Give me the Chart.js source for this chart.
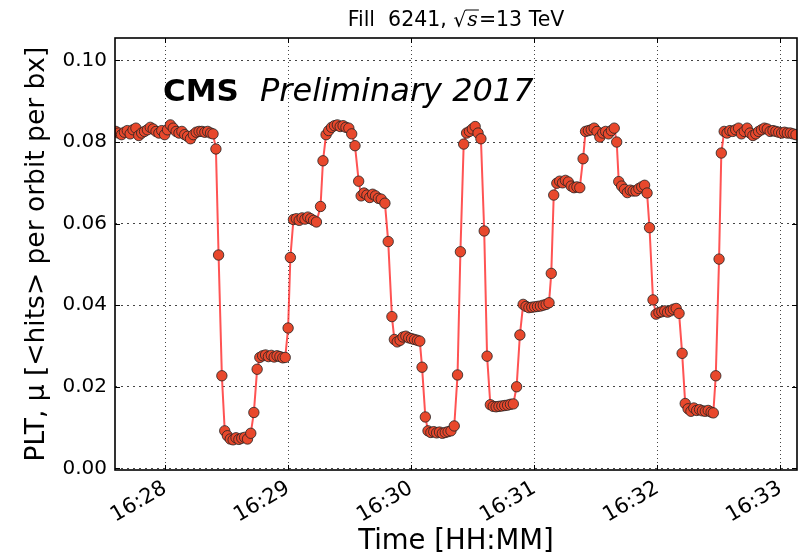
<!DOCTYPE html>
<html><head><meta charset="utf-8">
<script src="https://cdn.jsdelivr.net/npm/chart.js@4.4.1/dist/chart.umd.min.js"></script>
<style>html,body{margin:0;padding:0;background:#fff}</style>
</head><body>
<canvas id="c" width="806" height="559" style="display:block;width:806px;height:559px"></canvas>
<script>
// ---- data: seconds after 16:28:00 and PLT mu per sample ----
const times = [
 -24.0,-22.6,-21.2,-19.8,-18.4,-17.0,-15.6,-14.2,-12.8,-11.4,-10.0,-8.6,-7.2,-5.8,-4.4,-3.0,-1.6,-0.2,
 1.2,2.6,4.0,5.4,6.8,8.2,9.6,11.0,12.4,13.8,15.2,16.6,18.0,19.4,20.8,22.2,23.4,24.8,26.1,27.7,29.1,
 30.4,31.8,33.2,34.6,36.0,37.4,38.8,40.2,41.8,43.3,44.9,46.2,47.6,49.0,50.4,51.8,53.2,54.6,56.0,57.4,58.6,
 60.0,61.1,62.6,64.0,65.4,66.8,68.2,69.6,71.0,72.4,73.8,75.8,77.0,78.5,79.8,81.2,82.6,84.0,85.4,86.8,88.2,89.6,
 91.0,92.6,94.4,95.6,97.0,98.4,99.8,101.2,102.6,104.0,105.4,107.2,108.8,110.6,111.8,113.2,114.6,116.0,117.4,118.8,
 120.2,121.6,123.0,124.2,125.3,126.9,128.2,129.6,131.0,132.4,133.8,135.2,136.6,138.0,139.4,141.0,142.6,144.0,145.6,
 147.0,148.4,149.8,151.2,152.6,154.0,155.6,157.0,158.6,160.0,161.4,162.8,164.2,165.6,167.0,168.4,169.8,
 171.4,173.0,174.6,176.0,177.4,178.8,180.2,181.6,183.0,184.4,185.8,187.2,188.3,189.5,191.0,192.4,193.8,195.2,196.6,
 198.0,199.4,200.8,202.2,203.8,205.0,206.4,207.8,209.2,210.6,212.0,213.4,214.8,216.2,217.6,219.0,220.2,221.2,
 222.6,224.0,225.4,226.8,228.2,229.6,231.0,232.4,233.8,235.0,236.2,237.9,239.4,240.8,242.2,243.6,245.0,246.4,247.8,
 249.2,250.6,252.1,253.6,255.0,256.4,257.8,259.2,260.6,262.0,263.4,264.8,266.2,267.3,268.5,270.1,271.2,
 272.6,274.0,275.4,276.8,278.2,279.6,281.0,282.4,283.8,285.2,286.6,288.0,289.4,290.8,292.2,293.6,295.0,296.4,
 297.8,299.2,300.6,302.0,303.4,304.8,306.2,307.6
];
const mu = [
 0.0826,0.0822,0.0818,0.0824,0.0828,0.0820,0.0830,0.0834,0.0816,0.0822,0.0826,0.0830,0.0836,0.0832,0.0826,0.0822,0.0828,0.0818,
 0.0830,0.0842,0.0834,0.0826,0.0822,0.0826,0.0818,0.0814,0.0808,0.0818,0.0824,0.0826,0.0826,0.0824,0.0826,0.0822,0.0820,0.0783,0.0523,0.0227,0.0092,
 0.0080,0.0072,0.0070,0.0075,0.0071,0.0074,0.0076,0.0072,0.0086,0.0137,0.0243,0.0272,0.0276,0.0278,0.0274,0.0277,0.0273,0.0276,0.0274,0.0271,0.0272,
 0.0344,0.0517,0.0610,0.0612,0.0608,0.0614,0.0611,0.0616,0.0612,0.0608,0.0604,0.0642,0.0754,0.0818,0.0828,0.0836,0.0840,0.0842,0.0838,0.0840,0.0836,0.0834,
 0.0820,0.0791,0.0704,0.0668,0.0675,0.0670,0.0664,0.0672,0.0668,0.0662,0.0660,0.0650,0.0556,0.0372,0.0316,0.0310,0.0314,0.0322,0.0324,0.0320,
 0.0318,0.0316,0.0314,0.0312,0.0248,0.0126,0.0092,0.0088,0.0090,0.0087,0.0089,0.0086,0.0088,0.0090,0.0092,0.0104,0.0229,0.0531,0.0795,
 0.0822,0.0826,0.0832,0.0838,0.0822,0.0808,0.0582,0.0275,0.0156,0.0152,0.0151,0.0152,0.0153,0.0154,0.0155,0.0157,0.0158,
 0.0200,0.0327,0.0402,0.0397,0.0394,0.0395,0.0396,0.0397,0.0398,0.0400,0.0402,0.0406,0.0478,0.0670,0.0699,0.0704,0.0700,0.0706,0.0702,
 0.0692,0.0688,0.0690,0.0688,0.0759,0.0826,0.0828,0.0830,0.0834,0.0826,0.0812,0.0822,0.0826,0.0820,0.0828,0.0834,0.0800,0.0703,
 0.0692,0.0684,0.0676,0.0682,0.0680,0.0680,0.0686,0.0690,0.0694,0.0675,0.0590,0.0413,0.0378,0.0382,0.0384,0.0386,0.0383,0.0386,0.0390,
 0.0392,0.0380,0.0282,0.0159,0.0146,0.0140,0.0148,0.0142,0.0144,0.0141,0.0140,0.0142,0.0138,0.0136,0.0227,0.0513,0.0773,
 0.0826,0.0822,0.0828,0.0826,0.0830,0.0834,0.0820,0.0826,0.0834,0.0822,0.0816,0.0820,0.0826,0.0830,0.0834,0.0832,0.0826,0.0828,
 0.0826,0.0824,0.0822,0.0824,0.0822,0.0822,0.0820,0.0818
];
const xTickValues = [0, 60, 120, 180, 240, 300];
const xTickLabels = ['16:28', '16:29', '16:30', '16:31', '16:32', '16:33'];
const yTickValues = [0.00, 0.02, 0.04, 0.06, 0.08, 0.10];
const xRange = [-24.4, 308.1];
const yRange = [-0.0004, 0.1055];
const chartTitle = { fill: 'Fill  6241, ', energy: '=13 TeV' };
const cmsLabel = ['CMS', 'Preliminary 2017'];
const xAxisTitle = 'Time [HH:MM]';
const yAxisTitle = 'PLT, μ [<hits> per orbit per bx]';

const FONT = '"DejaVu Sans", sans-serif';
const points = times.map((t, i) => ({ x: t, y: mu[i] }));

const decor = {
  id: 'decor',
  afterDraw(chart) {
    const { ctx, chartArea: a, scales: { x, y } } = chart;
    ctx.save();
    // inward tick marks
    ctx.strokeStyle = '#000';
    ctx.lineWidth = 1;
    ctx.beginPath();
    xTickValues.forEach(v => {
      const px = Math.round(x.getPixelForValue(v)) + 0.5;
      ctx.moveTo(px, a.bottom); ctx.lineTo(px, a.bottom - 5);
      ctx.moveTo(px, a.top); ctx.lineTo(px, a.top + 5);
    });
    yTickValues.forEach(v => {
      const py = Math.round(y.getPixelForValue(v)) + 0.5;
      ctx.moveTo(a.left, py); ctx.lineTo(a.left + 5, py);
      ctx.moveTo(a.right, py); ctx.lineTo(a.right - 5, py);
    });
    ctx.stroke();
    // frame
    ctx.lineWidth = 1.6;
    ctx.strokeRect(a.left, a.top, a.right - a.left, a.bottom - a.top);
    // CMS label
    ctx.fillStyle = '#000';
    ctx.textBaseline = 'alphabetic';
    ctx.textAlign = 'left';
    ctx.font = 'bold 31px ' + FONT;
    const cx = a.left + 48, cy = a.top + 63;
    ctx.fillText(cmsLabel[0], cx, cy);
    ctx.font = 'italic 32px ' + FONT;
    ctx.fillText(cmsLabel[1], a.left + 145, cy);
    // title with sqrt(s)
    const fs = 20.5;
    const base = 26;
    const fNorm = fs + 'px ' + FONT;
    const fIt = 'italic ' + fs + 'px "DejaVu Serif", serif';
    ctx.font = fNorm;
    const wa = ctx.measureText(chartTitle.fill).width;
    const wr = ctx.measureText('\u221A').width;
    const wc = ctx.measureText(chartTitle.energy).width;
    ctx.font = fIt;
    const ws = ctx.measureText('s').width + 2;
    const total = wa + wr + ws + wc;
    let tx = (a.left + a.right) / 2 - total / 2;
    ctx.font = fNorm;
    ctx.fillText(chartTitle.fill, tx, base); tx += wa;
    ctx.fillText('\u221A', tx, base + 1); tx += wr;
    ctx.lineWidth = 1;
    ctx.beginPath();
    ctx.moveTo(tx - 1, base - fs * 0.78); ctx.lineTo(tx + ws, base - fs * 0.78);
    ctx.stroke();
    ctx.font = fIt;
    ctx.fillText('s', tx + 1, base); tx += ws;
    ctx.font = fNorm;
    ctx.fillText(chartTitle.energy, tx, base);
    ctx.restore();
  }
};

new Chart(document.getElementById('c'), {
  type: 'line',
  data: {
    datasets: [{
      data: points,
      borderColor: 'rgba(255,40,40,0.8)',
      borderWidth: 2,
      backgroundColor: '#e8482c',
      pointBackgroundColor: '#e8482c',
      pointBorderColor: '#222',
      pointBorderWidth: 0.8,
      pointRadius: 5.2,
      pointHoverRadius: 5.2,
      tension: 0,
      fill: false
    }]
  },
  options: {
    responsive: false,
    animation: false,
    devicePixelRatio: 1,
    layout: { padding: { top: 38, right: 9, left: 0, bottom: 0 } },
    plugins: { legend: { display: false }, tooltip: { enabled: false }, title: { display: false } },
    scales: {
      x: {
        type: 'linear',
        min: xRange[0], max: xRange[1],
        afterBuildTicks: s => { s.ticks = xTickValues.map(v => ({ value: v })); },
        afterFit: s => { s.height = 89; },
        ticks: {
          autoSkip: false, minRotation: 30, maxRotation: 30, padding: 6,
          color: '#000', font: { family: FONT, size: 21 },
          callback: (v, i) => xTickLabels[i]
        },
        grid: { color: '#444', lineWidth: 1, drawTicks: false },
        border: { display: false, dash: [1, 3] },
        title: { display: true, text: xAxisTitle, color: '#000', font: { family: FONT, size: 27.5 }, padding: { bottom: 1, top: 0 } }
      },
      y: {
        min: yRange[0], max: yRange[1],
        afterBuildTicks: s => { s.ticks = yTickValues.map(v => ({ value: v })); },
        afterFit: s => { s.width = 115; },
        ticks: {
          padding: 8, color: '#000', font: { family: FONT, size: 20 },
          callback: v => Number(v).toFixed(2)
        },
        grid: { color: '#444', lineWidth: 1, drawTicks: false },
        border: { display: false, dash: [2, 4] },
        title: { display: true, text: yAxisTitle, color: '#000', font: { family: FONT, size: 26.5 }, padding: { top: 21 } }
      }
    }
  },
  plugins: [decor]
});
</script>
</body></html>
